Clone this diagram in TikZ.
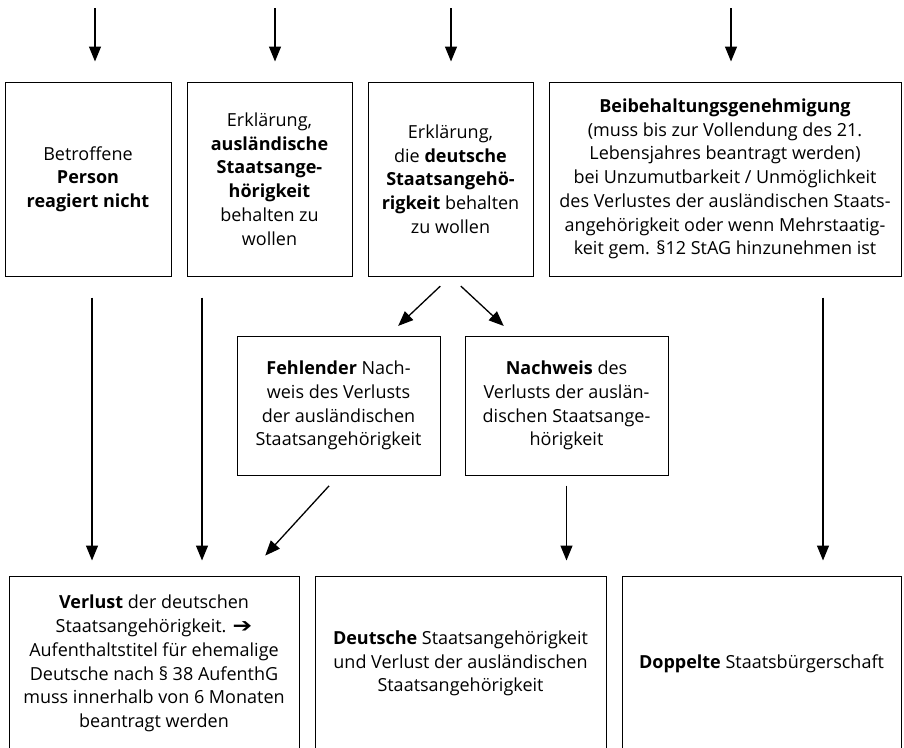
\documentclass[tikz,border=0pt]{standalone}
\usepackage{fontspec}
\setmainfont{Open Sans}
\newfontfamily\pfeilfont{DejaVu Sans}
\usetikzlibrary{arrows.meta}

\tikzset{
	kasten/.style={draw,line width=1pt,align=center,inner sep=0pt,font=\fontsize{18}{23.7}\selectfont},
	pfeil/.style={line width=1.3pt,-{Triangle[length=15pt,width=12pt]}}
}

\begin{document}
\begin{tikzpicture}[x=1pt,y=-1pt]
			\clip (0,0) rectangle (904,747);
			% obere Reihe
			\node[kasten,minimum width=166pt,minimum height=194pt] (reagiert) at (88,179)
			{Betroffene\\\textbf{Person}\\\textbf{reagiert nicht}};
			\node[kasten,minimum width=165pt,minimum height=194pt] (auslaendisch) at (269.5,179)
			{Erklärung,\\\textbf{ausländische}\\\textbf{Staatsange-}\\\textbf{hörigkeit}\\behalten zu\\wollen};
			\node[kasten,minimum width=165pt,minimum height=194pt] (deutsch) at (450.5,179)
			{Erklärung,\\die \textbf{deutsche}\\\textbf{Staatsangehö-}\\\textbf{rigkeit} behalten\\zu wollen};
			\node[kasten,minimum width=352pt,minimum height=194pt] (beibehaltung) at (725,179)
			{\textbf{Beibehaltungsgenehmigung}\\(muss bis zur Vollendung des 21.\\Lebensjahres beantragt werden)\\bei Unzumutbarkeit / Unmöglichkeit\\des Verlustes der ausländischen Staats-\\angehörigkeit oder wenn Mehrstaatig-\\keit gem. §12 StAG hinzunehmen ist};
			% mittlere Reihe
			\node[kasten,minimum width=203pt,minimum height=139pt] (fehlend) at (338.5,405.5)
			{\textbf{Fehlender} Nach-\\weis des Verlusts\\der ausländischen\\Staatsangehörigkeit};
			\node[kasten,minimum width=203pt,minimum height=139pt] (nachweis) at (566.5,405.5)
			{\textbf{Nachweis} des\\Verlusts der auslän-\\dischen Staatsange-\\hörigkeit};
			% untere Reihe
			\node[kasten,minimum width=290pt,minimum height=175pt] (verlust) at (154,663.5)
			{\textbf{Verlust} der deutschen\\Staatsangehörigkeit. {\pfeilfont\scalebox{1.3}[1.1]{➔}}\\Aufenthaltstitel für ehemalige\\Deutsche nach § 38 AufenthG\\muss innerhalb von 6 Monaten\\beantragt werden};
			\node[kasten,minimum width=291pt,minimum height=175pt] (deutschbleibt) at (460.5,663.5)
			{\textbf{Deutsche} Staatsangehörigkeit\\und Verlust der ausländischen\\Staatsangehörigkeit};
			\node[kasten,minimum width=279pt,minimum height=175pt] (doppelt) at (761.5,663.5)
			{\textbf{Doppelte} Staatsbürgerschaft};
			% Pfeile von oben
			\coordinate (ein1) at (95,8);
			\coordinate (ein2) at (275,8);
			\coordinate (ein3) at (451,8);
			\coordinate (ein4) at (731,8);
			\draw[pfeil,shorten >=20pt] (ein1) -- (ein1 |- reagiert.north);
			\draw[pfeil,shorten >=20pt] (ein2) -- (ein2 |- auslaendisch.north);
			\draw[pfeil,shorten >=20pt] (ein3) -- (ein3 |- deutsch.north);
			\draw[pfeil,shorten >=20pt] (ein4) -- (ein4 |- beibehaltung.north);
			% Pfeile nach unten
			\coordinate (aus1) at ([xshift=4pt]reagiert.south);
			\coordinate (aus2) at ([xshift=-67.5pt]auslaendisch.south);
			\coordinate (aus3) at ([xshift=98pt]beibehaltung.south);
			\draw[pfeil,shorten <=21pt,shorten >=15pt] (aus1) -- (aus1 |- verlust.north);
			\draw[pfeil,shorten <=21pt,shorten >=15pt] (aus2) -- (aus2 |- verlust.north);
			\draw[pfeil,shorten <=21pt,shorten >=15pt] (aus3) -- (aus3 |- doppelt.north);
			\draw[pfeil,shorten <=14pt,shorten >=14pt] (deutsch.south) -- ([xshift=49.5pt]fehlend.north);
			\draw[pfeil,shorten <=14pt,shorten >=14pt] (deutsch.south) -- ([xshift=-52.5pt]nachweis.north);
			\draw[pfeil,shorten <=14pt,shorten >=27pt] (fehlend.south) -- ([xshift=93pt]verlust.north);
			\draw[pfeil,shorten <=10pt,shorten >=15pt] (nachweis.south) -- (nachweis.south |- deutschbleibt.north);
		\end{tikzpicture}
\end{document}
